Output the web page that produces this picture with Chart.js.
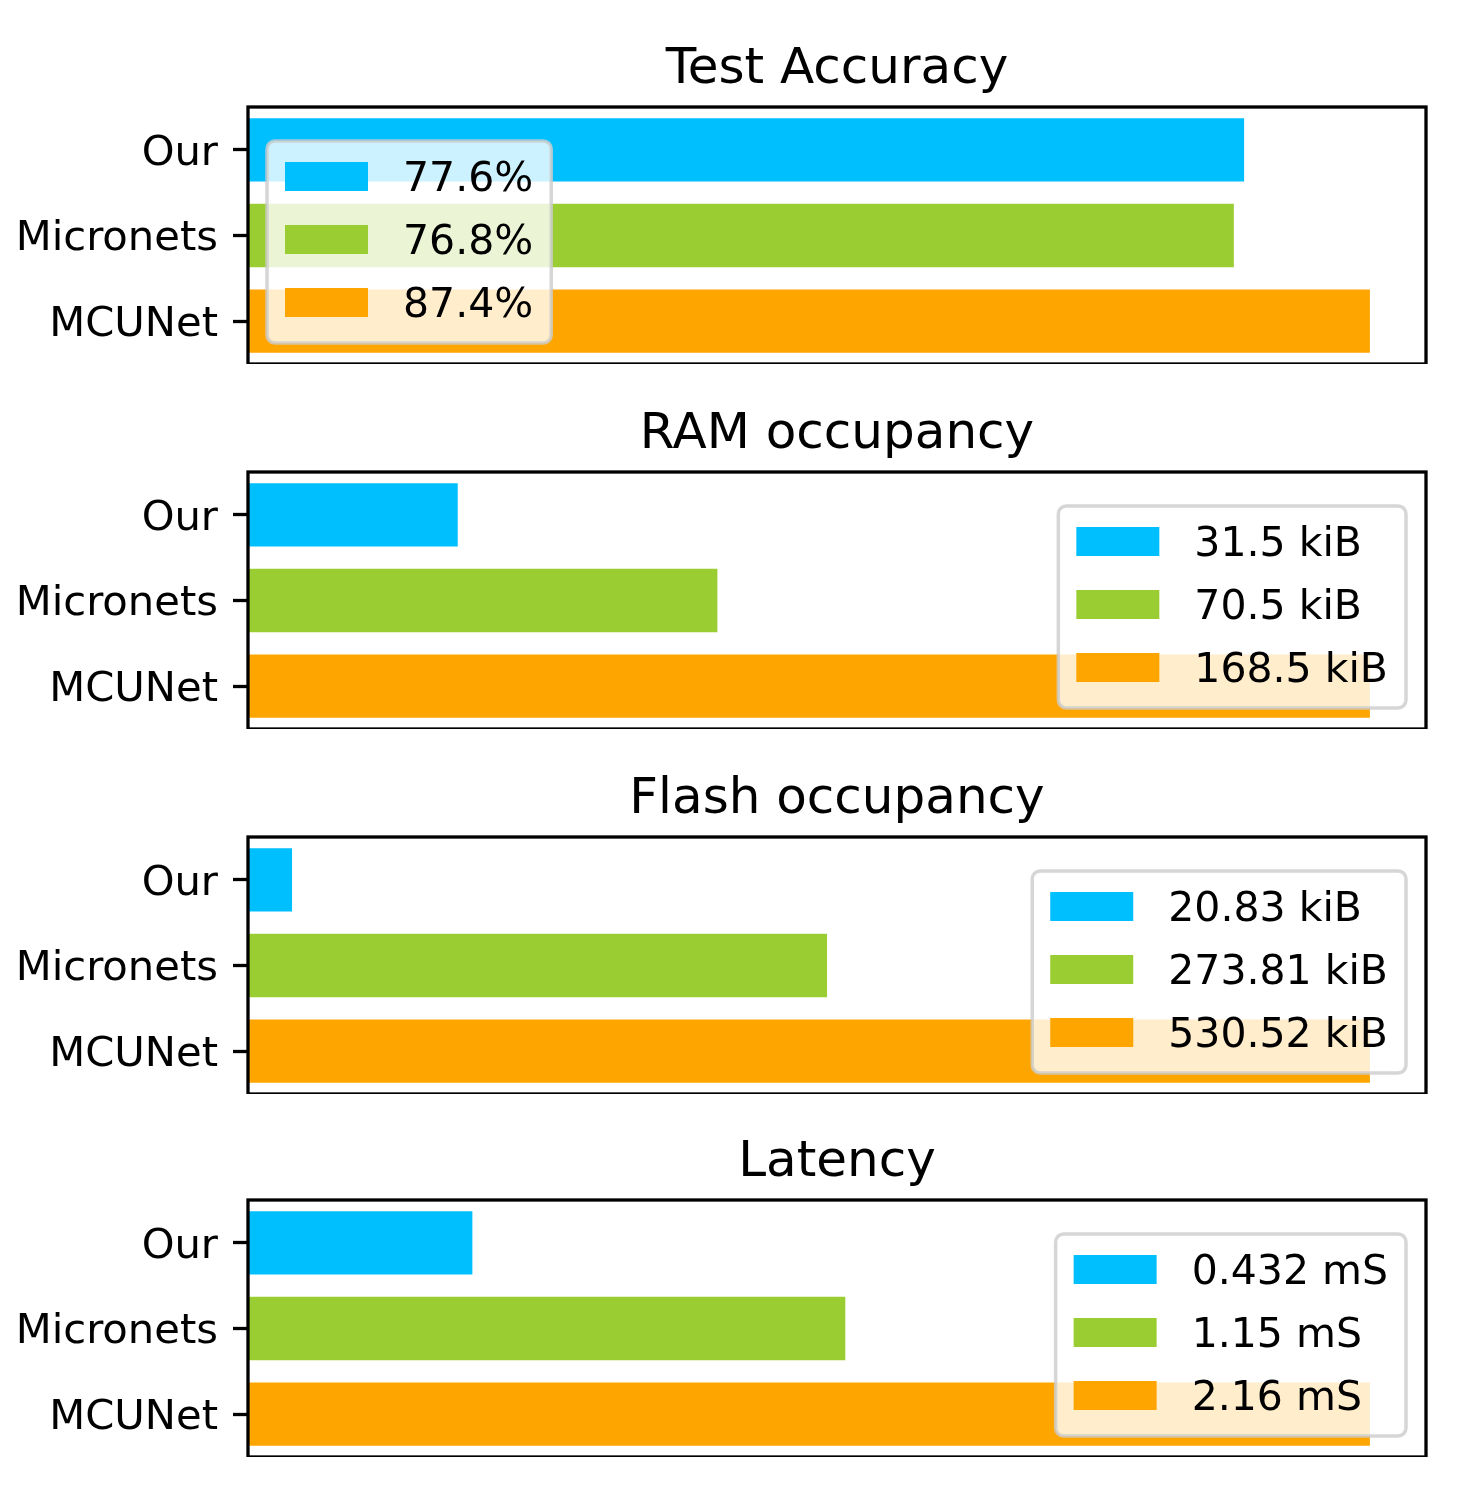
<!DOCTYPE html>
<html>
<head>
<meta charset="utf-8">
<script src="https://cdn.jsdelivr.net/npm/chart.js@4.4.1/dist/chart.umd.min.js"></script>
<style>
  body { margin: 0; background: #fff; }
  #wrap { position: relative; width: 1471px; height: 1500px; }
  canvas { position: absolute; left: 0; }
</style>
</head>
<body>
<div id="wrap">
  <canvas id="accChart" width="1471" height="364" style="top:0px"></canvas>
  <canvas id="ramChart" width="1471" height="364" style="top:365px"></canvas>
  <canvas id="flashChart" width="1471" height="364" style="top:730px"></canvas>
  <canvas id="latChart" width="1471" height="364" style="top:1093px"></canvas>
</div>
<script>
const models = ['Our', 'Micronets', 'MCUNet'];
const barColors = ['#00BFFF', '#9ACD32', '#FFA500'];

const accuracyValues = [77.6, 76.8, 87.4];
const ramValues = [31.5, 70.5, 168.5];
const flashValues = [20.83, 273.81, 530.52];
const latencyValues = [0.432, 1.15, 2.16];

const accuracyLabels = ['77.6%', '76.8%', '87.4%'];
const ramLabels = ['31.5 kiB', '70.5 kiB', '168.5 kiB'];
const flashLabels = ['20.83 kiB', '273.81 kiB', '530.52 kiB'];
const latencyLabels = ['0.432 mS', '1.15 mS', '2.16 mS'];

const FONT = '"DejaVu Sans", sans-serif';

// black box round the plot area, drawn over the bars like matplotlib spines
const framePlugin = {
  id: 'axesFrame',
  afterDatasetsDraw(chart) {
    const { ctx, chartArea: a } = chart;
    ctx.save();
    ctx.strokeStyle = '#000';
    ctx.lineWidth = 3.3;
    ctx.strokeRect(a.left, a.top, a.right - a.left, a.bottom - a.top);
    ctx.restore();
  },
};

// legend inside the plot, lower left / lower right, semi transparent box
function boxLegend(corner) {
  return {
    id: 'boxLegend',
    afterDraw(chart) {
      const { ctx, chartArea: a } = chart;
      const sets = chart.data.datasets;
      ctx.save();
      ctx.font = `41px ${FONT}`;
      const textW = Math.max(...sets.map(d => ctx.measureText(d.label).width));
      const w = 18 + 83 + 35 + textW + 18;
      const h = 202;
      const x = corner === 'left' ? a.left + 19 : a.right - 20 - w;
      const y = a.bottom - 21 - h;
      ctx.beginPath();
      ctx.roundRect(x, y, w, h, 8);
      ctx.fillStyle = 'rgba(255,255,255,0.8)';
      ctx.fill();
      ctx.lineWidth = 3.5;
      ctx.strokeStyle = 'rgba(204,204,204,0.8)';
      ctx.stroke();
      ctx.textBaseline = 'alphabetic';
      sets.forEach((d, i) => {
        ctx.fillStyle = d.backgroundColor;
        ctx.fillRect(x + 18, y + 21 + i * 63, 83, 29);
        ctx.fillStyle = '#000';
        ctx.fillText(d.label, x + 18 + 83 + 35, y + 50 + i * 63);
      });
      ctx.restore();
    },
  };
}

function makeChart(id, title, values, labels, corner) {
  return new Chart(document.getElementById(id), {
    type: 'bar',
    data: {
      labels: models,
      datasets: labels.map((label, i) => ({
        label,
        data: models.map((_, j) => (j === i ? values[i] : null)),
        backgroundColor: barColors[i],
        borderWidth: 0,
        barPercentage: 0.74,
        categoryPercentage: 1.0,
      })),
    },
    options: {
      indexAxis: 'y',
      responsive: false,
      animation: false,
      devicePixelRatio: 1,
      layout: { padding: { top: 0, left: 0, right: 45, bottom: 0 } },
      scales: {
        x: {
          type: 'linear',
          display: false,
          stacked: true,
          min: 0,
          max: Math.max(...values) * 1.05,
        },
        y: {
          stacked: true,
          offset: true,
          border: { display: false },
          grid: {
            offset: false,
            drawOnChartArea: false,
            drawTicks: true,
            tickLength: 15,
            tickWidth: 3.3,
            tickColor: '#000',
          },
          ticks: {
            color: '#000',
            font: { family: FONT, size: 41.7 },
            padding: 15,
            labelOffset: 4,
            autoSkip: false,
          },
          afterFit(scale) {
            scale.width = 248;
            scale.paddingTop = 0;
            scale.paddingBottom = 0;
          },
        },
      },
      plugins: {
        legend: { display: false },
        tooltip: { enabled: false },
        title: {
          display: true,
          fullSize: false,
          text: title,
          color: '#000',
          font: { family: FONT, size: 50, weight: 'normal', lineHeight: 1.2 },
          padding: { top: 40, bottom: 7 },
        },
      },
    },
    plugins: [framePlugin, boxLegend(corner)],
  });
}

makeChart('accChart', 'Test Accuracy', accuracyValues, accuracyLabels, 'left');
makeChart('ramChart', 'RAM occupancy', ramValues, ramLabels, 'right');
makeChart('flashChart', 'Flash occupancy', flashValues, flashLabels, 'right');
makeChart('latChart', 'Latency', latencyValues, latencyLabels, 'right');
</script>
</body>
</html>
